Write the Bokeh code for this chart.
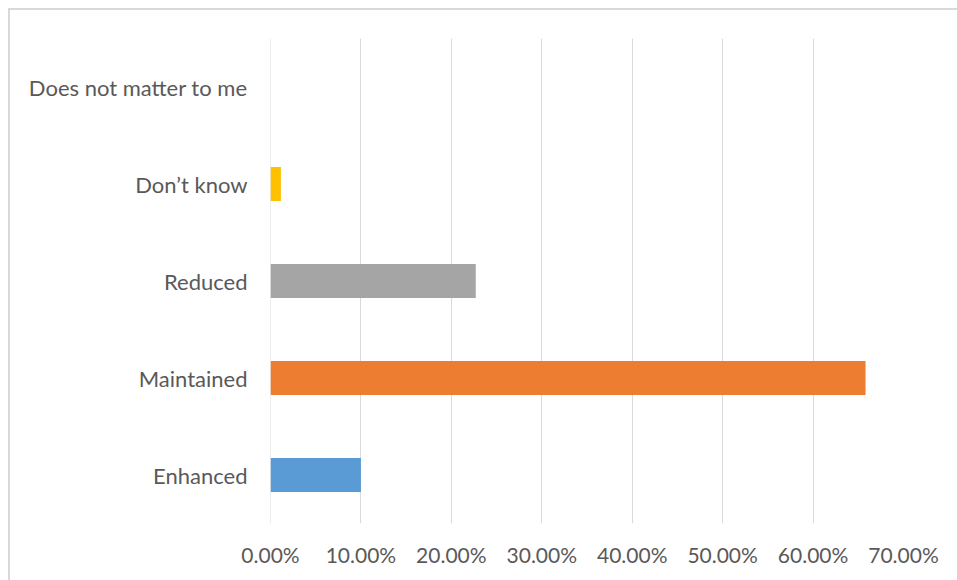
from bokeh.plotting import figure
from bokeh.models import ColumnDataSource, Range1d, FixedTicker, NumeralTickFormatter, Span
from bokeh.embed import file_html
from bokeh.resources import INLINE

# Survey answers, bottom to top
categories = ["Enhanced", "Maintained", "Reduced", "Don\u2019t know", "Does not matter to me"]
shares = [0.100, 0.658, 0.227, 0.0115, 0.0]
colors = ["#5B9BD5", "#ED7D31", "#A5A5A5", "#FFC000", "#4472C4"]
tick_values = [0.0, 0.1, 0.2, 0.3, 0.4, 0.5, 0.6, 0.7]

source = ColumnDataSource(dict(category=categories, share=shares, color=colors))

FONT = "Lato"
TEXT = "#595959"
GRID = "#d9d9d9"

p = figure(
    y_range=categories,
    x_range=Range1d(0, 0.7),
    width=949,
    height=572,
    output_backend="svg",
    toolbar_location=None,
    min_border_left=260,
    min_border_right=56,
    min_border_top=28,
    min_border_bottom=59,
)
p.margin = (8, 0, 0, 8)
p.styles = {"border-left": "2px solid #d9d9d9", "border-top": "2px solid #d9d9d9"}

# zero line of the value axis
p.add_layout(Span(location=0, dimension="height", line_color=GRID, line_width=1, level="underlay"))

p.hbar(y="category", right="share", left=0, height=0.35,
       fill_color="color", line_color=None, source=source)

p.outline_line_color = None
p.background_fill_color = "white"
p.border_fill_color = "white"

p.xgrid.grid_line_color = GRID
p.xgrid.grid_line_width = 1
p.ygrid.grid_line_color = None

p.xaxis.ticker = FixedTicker(ticks=tick_values)
p.xaxis.formatter = NumeralTickFormatter(format="0.00%")
for ax in (p.xaxis[0], p.yaxis[0]):
    ax.axis_line_color = None
    ax.major_tick_line_color = None
    ax.minor_tick_line_color = None
    ax.major_label_text_font = FONT
    ax.major_label_text_color = TEXT
p.xaxis.major_label_text_font_size = "21px"
p.yaxis.major_label_text_font_size = "22px"
p.xaxis.major_label_standoff = 12
p.yaxis.major_label_standoff = 17
p.y_range.range_padding = 0

open("out.html", "w").write(file_html(p, INLINE))
